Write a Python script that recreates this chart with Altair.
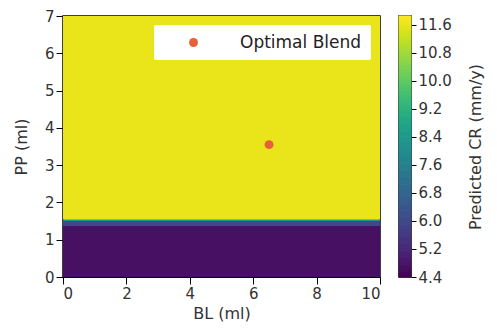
import altair as alt
import pandas as pd
import numpy as np

# Heatmap bands (PP ranges spanning full BL range)
bl_min = [0, 0, 0, 0]
bl_max = [10, 10, 10, 10]
pp_lo = [0.0, 1.37, 1.50, 1.55]
pp_hi = [1.37, 1.50, 1.55, 7.0]
cr_val = [4.7, 6.0, 8.2, 11.6]

# Optimal blend point
opt_bl = [6.5]
opt_pp = [3.55]
opt_label = ["Optimal Blend"]

# Axis ticks
x_ticks = [0, 2, 4, 6, 8, 10]
y_ticks = [0, 1, 2, 3, 4, 5, 6, 7]

# Colorbar
cb_ticks = [4.4, 5.2, 6.0, 6.8, 7.6, 8.4, 9.2, 10.0, 10.8, 11.6]
cb_min, cb_max = 4.4, 11.85

heat = pd.DataFrame({"bl0": bl_min, "bl1": bl_max, "pp0": pp_lo, "pp1": pp_hi, "cr": cr_val})
pts = pd.DataFrame({"bl": opt_bl, "pp": opt_pp, "label": opt_label})

cscale = alt.Scale(scheme="viridis", domain=[cb_min, cb_max])
xscale = alt.Scale(domain=[0, 10], nice=False)
yscale = alt.Scale(domain=[0, 7], nice=False)
font = "DejaVu Sans"

xax = alt.Axis(values=x_ticks, grid=False, tickSize=7, labelFontSize=15,
               titleFontSize=16, labelColor="#333", titleColor="#333", domainColor="black",
               tickColor="black", labelFont=font, titleFont=font, titleFontWeight="normal",
               titlePadding=4, labelOverlap=False)
yax = alt.Axis(values=y_ticks, grid=False, tickSize=7, labelFontSize=15,
               titleFontSize=16, labelColor="#333", titleColor="#333", domainColor="black",
               tickColor="black", labelFont=font, titleFont=font, titleFontWeight="normal",
               titlePadding=15, labelOverlap=False)

rects = alt.Chart(heat).mark_rect().encode(
    x=alt.X("bl0:Q", scale=xscale, axis=xax, title="BL (ml)"),
    x2="bl1:Q",
    y=alt.Y("pp0:Q", scale=yscale, axis=yax, title="PP (ml)"),
    y2="pp1:Q",
    color=alt.Color("cr:Q", scale=cscale, legend=None),
)

point = alt.Chart(pts).mark_point(filled=True, size=80, opacity=1).encode(
    x=alt.X("bl:Q", scale=xscale, axis=xax, title="BL (ml)"),
    y=alt.Y("pp:Q", scale=yscale, axis=yax, title="PP (ml)"),
    fill=alt.Fill("label:N", scale=alt.Scale(range=["#e8603a"]),
                  legend=alt.Legend(title=None, orient="top-right", offset=9,
                                    fillColor="white", padding=9, symbolOffset=22,
                                    labelOffset=38, labelFontSize=17, labelFont=font,
                                    labelColor="#222", symbolSize=80, symbolStrokeWidth=0,
                                    cornerRadius=2, labelLimit=300)),
)

main = alt.layer(rects, point).properties(width=317, height=261)

cb_vals = np.linspace(cb_min, cb_max, 151)
cb = pd.DataFrame({"v0": cb_vals[:-1], "v1": cb_vals[1:], "c": (cb_vals[:-1] + cb_vals[1:]) / 2})
cbax = alt.Axis(orient="right", values=cb_ticks, format=".1f", grid=False, tickSize=5,
                labelFontSize=15, titleFontSize=16, labelColor="#333", titleColor="#333",
                domain=False, tickColor="black", labelFont=font, titleFont=font,
                titleFontWeight="normal", titleAngle=270, titlePadding=32,
                labelOverlap=False)
colorbar = alt.Chart(cb).mark_rect(strokeWidth=1).encode(
    x=alt.value(0), x2=alt.value(12),
    y=alt.Y("v0:Q", scale=alt.Scale(domain=[cb_min, cb_max], nice=False), axis=cbax,
            title="Predicted CR (mm/y)"),
    y2="v1:Q",
    color=alt.Color("c:Q", scale=cscale, legend=None),
    stroke=alt.Stroke("c:Q", scale=cscale, legend=None),
).properties(width=12, height=261)

chart = alt.hconcat(main, colorbar, spacing=15).resolve_legend(fill="independent").configure_view(
    stroke="black", strokeWidth=1.5
).properties(padding={"left": 4, "top": 0, "right": 0, "bottom": 0}, background="white")

chart.save("out.html", embed_options={"renderer": "svg", "actions": False})
